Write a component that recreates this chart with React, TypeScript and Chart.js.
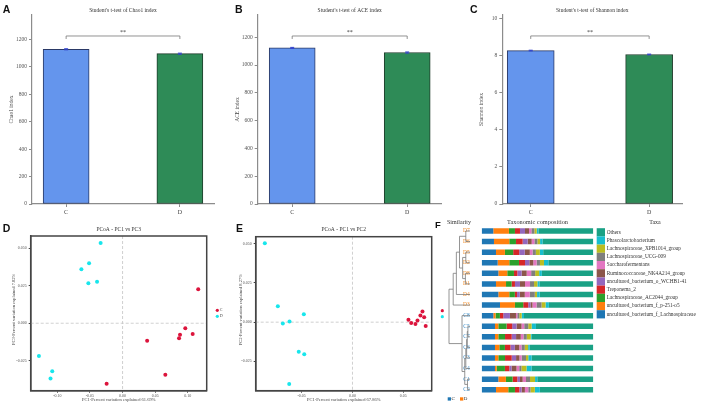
import React, { useEffect, useRef } from 'react';
import { Chart, registerables } from 'chart.js';

Chart.register(...registerables);
Chart.defaults.font.family = '"Liberation Serif", "Times New Roman", serif';
Chart.defaults.color = '#444';

// ---------- Panels A-C : alpha diversity ----------
const groups = ['C', 'D'];
const chao1Means = [1128, 1096];
const chao1Errors = [4, 4];
const aceMeans = [1123, 1090];
const aceErrors = [4, 4];
const shannonMeans = [8.28, 8.07];
const shannonErrors = [0.02, 0.02];
const countTicks = [0, 200, 400, 600, 800, 1000, 1200];
const shannonTicks = [0, 2, 4, 6, 8, 10];
const chao1SigLevel = 1225;
const aceSigLevel = 1209;
const shannonSigLevel = 9.07;

// ---------- Panels D-E : PCoA ----------
const pc13C = [[0.116, 0.0227], [0.0962, -0.0033], [0.0881, -0.0076], [0.1075, -0.0071], [0.0866, -0.01], [0.0377, -0.0116], [0.0656, -0.0343], [-0.0244, -0.0403]];
const pc13D = [[-0.0336, 0.0535], [-0.0513, 0.04], [-0.0631, 0.036], [-0.0391, 0.0277], [-0.0524, 0.0267], [-0.1282, -0.0218], [-0.1078, -0.032], [-0.1104, -0.0369]];
const pc12C = [[0.0689, 0.0068], [0.0669, 0.0042], [0.0706, 0.0032], [0.0551, 0.0015], [0.0578, -0.0006], [0.062, -0.0011], [0.0721, -0.0024], [0.064, 0.001]];
const pc12D = [[-0.0863, 0.0504], [-0.0735, 0.0102], [-0.0479, 0.0051], [-0.062, 0.0004], [-0.0686, -0.0009], [-0.0529, -0.0188], [-0.0475, -0.0204], [-0.0623, -0.0395]];
const pc13XTicks = [-0.1, -0.05, 0, 0.05, 0.1];
const pc12XTicks = [-0.05, 0, 0.05];
const pcYTicks = [-0.025, 0, 0.025, 0.05];

// ---------- Panel F : taxonomic composition ----------
const sampleLabels = ['D7', 'D6', 'D5', 'D2', 'D8', 'D1', 'D4', 'D3', 'C8', 'C5', 'C7', 'C6', 'C3', 'C4', 'C1', 'C2'];
const taxaNames = [
  'uncultured_bacterium_f_Lachnospiraceae',
  'uncultured_bacterium_f_p-251-o5',
  'Lachnospiraceae_AC2044_group',
  'Treponema_2',
  'uncultured_bacterium_o_WCHB1-41',
  'Ruminococcaceae_NK4A214_group',
  'Saccharofermentans',
  'Lachnospiraceae_UCG-009',
  'Lachnospiraceae_XPB1014_group',
  'Phascolarctobacterium',
  'Others',
];
const lachnoF = [10.4, 11, 12.8, 14.3, 14.9, 12.8, 14.9, 16.4, 10.4, 11.9, 11.9, 11.9, 11.9, 11.9, 14.9, 12.8];
const p251 = [14, 13.7, 8, 10.4, 8, 9, 9.8, 13.4, 2, 3, 3, 3.9, 3, 1.5, 6.8, 11];
const ac2044 = [5.4, 6, 7.4, 8.7, 6, 5, 5, 7.4, 3.9, 7.4, 6, 5, 6, 7.4, 6, 6];
const treponema = [4.5, 6, 5.4, 5.4, 3, 3, 2, 4.5, 3, 5, 6, 5, 6, 3.9, 4.2, 3.9];
const wchb = [4.5, 4.5, 5, 3.9, 3.9, 4.5, 2.4, 2, 6, 3.9, 3.9, 3.9, 3.9, 2, 2.4, 2];
const nk4a214 = [3.6, 3.6, 4.5, 3.5, 4.5, 4.5, 4.5, 1.8, 5.4, 4.5, 4.2, 3.9, 3, 4.5, 2.4, 3];
const saccharo = [2.1, 2.4, 2.4, 3, 4, 4.5, 4.5, 3.6, 1.2, 2.4, 2.4, 2, 2, 2.4, 3, 3];
const ucg009 = [2.7, 2.7, 3, 3, 3.6, 3.6, 4.5, 4.5, 1.8, 3.6, 3, 3, 3.9, 2, 3.6, 2];
const xpb1014 = [2.1, 2.4, 3.6, 3.6, 3.6, 3, 2, 3.6, 2.1, 3, 3.6, 3, 2, 4.5, 4.5, 3.9];
const phascol = [1.5, 2.1, 3, 3.9, 2.4, 1.8, 2.4, 3, 2.1, 3.9, 0.9, 1.5, 3, 4.5, 2, 4.5];
const others = [49.2, 45.6, 44.9, 40.3, 46.1, 48.3, 48, 39.8, 62.1, 51.4, 55.1, 56.9, 55.3, 55.4, 50.2, 47.9];
const taxaValues = [lachnoF, p251, ac2044, treponema, wchb, nk4a214, saccharo, ucg009, xpb1014, phascol, others];
// [left node, right node, merge height] ; leaves are row indices 0..15, merges create nodes 16..
const dendroMerges = [
  [0, 1, 0.2], [2, 3, 0.2], [4, 5, 0.22], [17, 18, 0.35], [16, 19, 0.5], [20, 6, 0.65], [21, 7, 0.8],
  [9, 10, 0.1], [23, 11, 0.13], [24, 12, 0.16], [25, 13, 0.2], [14, 15, 0.12], [26, 27, 0.25], [8, 28, 0.38],
  [22, 29, 1.0],
];

// ---------- styles ----------
const SANS = '"Liberation Sans", Arial, sans-serif';
const SERIF = '"Liberation Serif", "Times New Roman", serif';
const AXIS = '#8c8c8c';
const barFill = ['#6495ED', '#2E8B57'];
const barEdge = ['#2a3966', '#1f3b2b'];
const redDot = '#dc143c';
const cyanDot = '#18e6ec';
const taxaColors = ['#1f77b4', '#ff7f0e', '#2ca02c', '#d62728', '#9467bd', '#8c564b', '#e377c2', '#7f7f7f', '#bcbd22', '#17becf', '#19a185'];
const cLabelColor = '#3a8cc8';
const dLabelColor = '#f08a24';

function drawText(ctx: any, s: string, x: number, y: number, font: string, color: string, align = 'center', baseline = 'middle', rot = 0) {
  ctx.save();
  ctx.translate(x, y);
  if (rot) ctx.rotate(rot);
  ctx.font = font;
  ctx.fillStyle = color;
  ctx.textAlign = align;
  ctx.textBaseline = baseline;
  ctx.fillText(s, 0, 0);
  ctx.restore();
}

function line(ctx: any, x0: number, y0: number, x1: number, y1: number) {
  ctx.beginPath();
  ctx.moveTo(x0, y0);
  ctx.lineTo(x1, y1);
  ctx.stroke();
}

function barConfig(o: any) {
  const plugin = {
    id: 'barDecor',
    afterDraw(chart: any) {
      const { ctx, chartArea: ca, scales } = chart;
      const x = scales.x, y = scales.y;
      ctx.save();
      ctx.strokeStyle = '#3344cc';
      ctx.lineWidth = 1;
      o.means.forEach((m: number, i: number) => {
        const cx = x.getPixelForValue(i);
        const t = y.getPixelForValue(m + o.errors[i]);
        const b = y.getPixelForValue(m - o.errors[i]);
        line(ctx, cx, t, cx, b);
        line(ctx, cx - 2, t, cx + 2, t);
        line(ctx, cx - 2, b, cx + 2, b);
      });
      const yb = y.getPixelForValue(o.sig);
      const x0 = x.getPixelForValue(0), x1 = x.getPixelForValue(1);
      ctx.strokeStyle = '#777';
      ctx.lineWidth = 0.8;
      ctx.beginPath();
      ctx.moveTo(x0, yb + 3);
      ctx.lineTo(x0, yb);
      ctx.lineTo(x1, yb);
      ctx.lineTo(x1, yb + 3);
      ctx.stroke();
      ctx.restore();
      drawText(ctx, '**', (x0 + x1) / 2, yb - 3.5, `6px ${SERIF}`, '#333');
      drawText(ctx, o.title, (ca.left + ca.right) / 2, 11, `5.5px ${SERIF}`, '#333');
      drawText(ctx, o.yTitle, o.yTitleX, (ca.top + ca.bottom) / 2, `5.5px ${SERIF}`, '#444', 'center', 'middle', -Math.PI / 2);
      drawText(ctx, o.letter, o.letterX, 12.7, `bold 10.5px ${SANS}`, '#111', 'left', 'alphabetic');
    },
  };
  return {
    type: 'bar',
    data: {
      datasets: [{
        data: o.means.map((v: number, i: number) => ({ x: i, y: v })),
        backgroundColor: barFill,
        borderColor: barEdge,
        borderWidth: 1,
        borderSkipped: false,
        barThickness: o.barW,
      }],
    },
    options: {
      animation: false,
      responsive: false,
      layout: { padding: { top: 15, right: o.padRight, left: 0, bottom: 0 } },
      plugins: { legend: { display: false }, tooltip: { enabled: false } },
      scales: {
        x: {
          type: 'linear', min: o.xMin, max: o.xMax, offset: false,
          afterBuildTicks: (s: any) => { s.ticks = groups.map((_, i) => ({ value: i })); },
          afterFit: (s: any) => { s.height = 14; },
          ticks: { callback: (v: any) => groups[v] ?? '', font: { size: 6 }, color: '#444', padding: 2, autoSkip: false, maxRotation: 0 },
          grid: { offset: false, drawOnChartArea: false, drawTicks: true, tickLength: 3, color: AXIS },
          border: { display: true, color: AXIS, width: 1.2 },
        },
        y: {
          min: 0, max: o.yMax,
          afterBuildTicks: (s: any) => { s.ticks = o.yTicks.map((v: number) => ({ value: v })); },
          afterFit: (s: any) => { s.width = o.yW; },
          ticks: { callback: (v: any) => String(v), font: { size: 5.5 }, color: '#555', padding: 2 },
          grid: { drawOnChartArea: false, drawTicks: true, tickLength: 3, color: AXIS },
          border: { display: true, color: AXIS, width: 1.2 },
        },
      },
    },
    plugins: [plugin],
  };
}

function pcoaConfig(o: any) {
  const plugin = {
    id: 'pcoaDecor',
    beforeDatasetsDraw(chart: any) {
      const { ctx, chartArea: ca, scales } = chart;
      const px = scales.x.getPixelForValue(0), py = scales.y.getPixelForValue(0);
      ctx.save();
      ctx.strokeStyle = '#c4c4c4';
      ctx.lineWidth = 0.8;
      ctx.setLineDash([3, 2]);
      line(ctx, px, ca.top, px, ca.bottom);
      line(ctx, ca.left, py, ca.right, py);
      ctx.restore();
    },
    afterDraw(chart: any) {
      const { ctx, chartArea: ca } = chart;
      ctx.save();
      ctx.strokeStyle = '#444';
      ctx.lineWidth = 1.5;
      ctx.strokeRect(ca.left, ca.top, ca.right - ca.left, ca.bottom - ca.top);
      const lx = ca.right + 10.6, ly = (ca.top + ca.bottom) / 2;
      ctx.fillStyle = redDot;
      ctx.beginPath(); ctx.arc(lx, ly - 3, 1.6, 0, Math.PI * 2); ctx.fill();
      ctx.fillStyle = cyanDot;
      ctx.beginPath(); ctx.arc(lx, ly + 3, 1.6, 0, Math.PI * 2); ctx.fill();
      ctx.restore();
      if (o.legendText) {
        drawText(ctx, groups[0], lx + 2.5, ly - 3, `4px ${SERIF}`, '#444', 'left');
        drawText(ctx, groups[1], lx + 2.5, ly + 3, `4px ${SERIF}`, '#444', 'left');
      }
      drawText(ctx, o.title, (ca.left + ca.right) / 2, 12, `5.5px ${SERIF}`, '#333');
      drawText(ctx, o.xTitle, (ca.left + ca.right) / 2, 182, `4.5px ${SERIF}`, '#444');
      drawText(ctx, o.yTitle, o.yTitleX, (ca.top + ca.bottom) / 2 - 4, `4.5px ${SERIF}`, '#444', 'center', 'middle', -Math.PI / 2);
      drawText(ctx, o.letter, o.letterX, 14, `bold 10.5px ${SANS}`, '#111', 'left', 'alphabetic');
    },
  };
  const pts = (a: number[][]) => a.map(([x, y]) => ({ x, y }));
  return {
    type: 'scatter',
    data: {
      datasets: [
        { data: pts(o.c), backgroundColor: redDot, pointRadius: 2, borderWidth: 0 },
        { data: pts(o.d), backgroundColor: cyanDot, pointRadius: 2, borderWidth: 0 },
      ],
    },
    options: {
      animation: false,
      responsive: false,
      layout: { padding: { top: o.padTop, right: o.padRight, left: 0, bottom: 0 } },
      plugins: { legend: { display: false }, tooltip: { enabled: false } },
      scales: {
        x: {
          type: 'linear', min: o.xMin, max: o.xMax,
          afterBuildTicks: (s: any) => { s.ticks = o.xTicks.map((v: number) => ({ value: v })); },
          afterFit: (s: any) => { s.height = 19.3; },
          ticks: { callback: (v: any) => Number(v).toFixed(2), font: { size: 4 }, color: '#555', padding: 1, maxRotation: 0 },
          grid: { drawOnChartArea: false, tickLength: 2, color: '#444' },
          border: { color: '#444', width: 1.5 },
        },
        y: {
          type: 'linear', min: o.yMin, max: o.yMax,
          afterBuildTicks: (s: any) => { s.ticks = o.yTicks.map((v: number) => ({ value: v })); },
          afterFit: (s: any) => { s.width = o.yW; },
          ticks: { callback: (v: any) => Number(v).toFixed(3), font: { size: 4 }, color: '#555', padding: 2 },
          grid: { drawOnChartArea: false, tickLength: 2, color: '#444' },
          border: { color: '#444', width: 1.5 },
        },
      },
    },
    plugins: [plugin],
  };
}

function taxaConfig() {
  const plugin = {
    id: 'taxaDecor',
    afterDraw(chart: any) {
      const { ctx, chartArea: ca, scales } = chart;
      const y = scales.y;
      // dendrogram
      const leafX = ca.left - 11.7;
      const unit = 21;
      const nodes: { x: number; y: number }[] = sampleLabels.map((_, i) => ({ x: leafX, y: y.getPixelForValue(i) }));
      ctx.save();
      ctx.strokeStyle = '#7a7a7a';
      ctx.lineWidth = 0.8;
      dendroMerges.forEach(([a, b, h]) => {
        const na = nodes[a], nb = nodes[b];
        const nx = leafX - h * unit;
        line(ctx, na.x, na.y, nx, na.y);
        line(ctx, nb.x, nb.y, nx, nb.y);
        line(ctx, nx, na.y, nx, nb.y);
        nodes.push({ x: nx, y: (na.y + nb.y) / 2 });
      });
      // legend
      const bx = ca.right + 3.4, top0 = 13.2, bh = 8.2;
      const order = taxaNames.map((_, i) => i).reverse();
      order.forEach((ti, k) => {
        ctx.fillStyle = taxaColors[ti];
        ctx.fillRect(bx, top0 + k * bh, 8.3, bh);
        drawText(ctx, taxaNames[ti], bx + 10, top0 + k * bh + bh / 2, `5.3px ${SERIF}`, '#333', 'left');
      });
      // group legend
      ctx.fillStyle = '#1f77b4';
      ctx.fillRect(17.7, 182.3, 3.3, 3.3);
      ctx.fillStyle = '#ff7f0e';
      ctx.fillRect(30, 182.3, 3.3, 3.3);
      ctx.restore();
      drawText(ctx, groups[0], 21.6, 184, `5px ${SERIF}`, '#333', 'left');
      drawText(ctx, groups[1], 33.8, 184, `5px ${SERIF}`, '#333', 'left');
      drawText(ctx, 'Similarity', 17, 7.7, `6px ${SERIF}`, '#333', 'left');
      drawText(ctx, 'Taxonomic composition', (ca.left + ca.right) / 2, 7.7, `6.3px ${SERIF}`, '#333');
      drawText(ctx, 'Taxa', 225, 7.3, `6px ${SERIF}`, '#333');
      drawText(ctx, 'F', 5, 13.3, `bold 9.5px ${SANS}`, '#111', 'left', 'alphabetic');
    },
  };
  return {
    type: 'bar',
    data: {
      labels: sampleLabels,
      datasets: taxaNames.map((name, i) => ({
        label: name,
        data: taxaValues[i],
        backgroundColor: taxaColors[i],
        borderWidth: 0,
        barPercentage: 0.52,
        categoryPercentage: 1,
      })),
    },
    options: {
      indexAxis: 'y',
      animation: false,
      responsive: false,
      layout: { padding: { top: 10.7, right: 114.7, bottom: 15, left: 0 } },
      plugins: { legend: { display: false }, tooltip: { enabled: false } },
      scales: {
        x: { stacked: true, min: 0, max: 100, display: false },
        y: {
          stacked: true,
          grid: { display: false },
          border: { display: false },
          afterFit: (s: any) => { s.width = 51.7; },
          ticks: {
            autoSkip: false,
            font: { size: 5.5 },
            padding: 4,
            color: (c: any) => (sampleLabels[c.index] || '').startsWith('D') ? dLabelColor : cLabelColor,
          },
        },
      },
    },
    plugins: [plugin],
  };
}

function ChartBox({ left, top, width, height, build }: any) {
  const ref = useRef<HTMLCanvasElement>(null);
  useEffect(() => {
    const chart = new Chart(ref.current as any, build());
    return () => chart.destroy();
  }, []);
  return (
    <canvas
      ref={ref}
      width={width}
      height={height}
      style={{ position: 'absolute', left, top, width, height }}
    />
  );
}

export default function App() {
  return (
    <div style={{ position: 'absolute', left: 0, top: 0, width: 708, height: 410, background: '#fff', overflow: 'hidden' }}>
      <ChartBox left={0} top={0} width={235} height={218} build={() => barConfig({
        means: chao1Means, errors: chao1Errors, sig: chao1SigLevel, yMax: 1378, yTicks: countTicks,
        xMin: -0.3, xMax: 1.3, barW: 46, yW: 32, padRight: 21,
        title: "Student's t-test of Chao1 index", yTitle: 'Chao1 index', yTitleX: 11.7, letter: 'A', letterX: 2.7,
      })} />
      <ChartBox left={235} top={0} width={235} height={218} build={() => barConfig({
        means: aceMeans, errors: aceErrors, sig: aceSigLevel, yMax: 1360, yTicks: countTicks,
        xMin: -0.3, xMax: 1.3, barW: 46, yW: 22.7, padRight: 28.3,
        title: "Student's t-test of ACE index", yTitle: 'ACE index', yTitleX: 3, letter: 'B', letterX: 0,
      })} />
      <ChartBox left={470} top={0} width={238} height={218} build={() => barConfig({
        means: shannonMeans, errors: shannonErrors, sig: shannonSigLevel, yMax: 10.2, yTicks: shannonTicks,
        xMin: -0.24, xMax: 1.28, barW: 47, yW: 32.3, padRight: 25.7,
        title: "Student's t-test of Shannon index", yTitle: 'Shannon index', yTitleX: 11.5, letter: 'C', letterX: 0,
      })} />
      <ChartBox left={0} top={218} width={235} height={192} build={() => pcoaConfig({
        c: pc13C, d: pc13D, xMin: -0.1408, xMax: 0.129, yMin: -0.045, yMax: 0.0582,
        xTicks: pc13XTicks, yTicks: pcYTicks, yW: 30.7, padRight: 28.3, padTop: 18,
        title: 'PCoA - PC1 vs PC3', xTitle: 'PC1-Percent variation explained 61.69%',
        yTitle: 'PC3-Percent variation explained 7.82%', yTitleX: 14, letter: 'D', letterX: 2.7, legendText: true,
      })} />
      <ChartBox left={235} top={218} width={215} height={192} build={() => pcoaConfig({
        c: pc12C, d: pc12D, xMin: -0.0953, xMax: 0.078, yMin: -0.0437, yMax: 0.0545,
        xTicks: pc12XTicks, yTicks: pcYTicks, yW: 20.7, padRight: 18.3, padTop: 18.7,
        title: 'PCoA - PC1 vs PC2', xTitle: 'PC1-Percent variation explained 67.86%',
        yTitle: 'PC2-Percent variation explained 8.27%', yTitleX: 5.5, letter: 'E', letterX: 1, legendText: false,
      })} />
      <ChartBox left={430} top={215} width={278} height={195} build={taxaConfig} />
    </div>
  );
}
